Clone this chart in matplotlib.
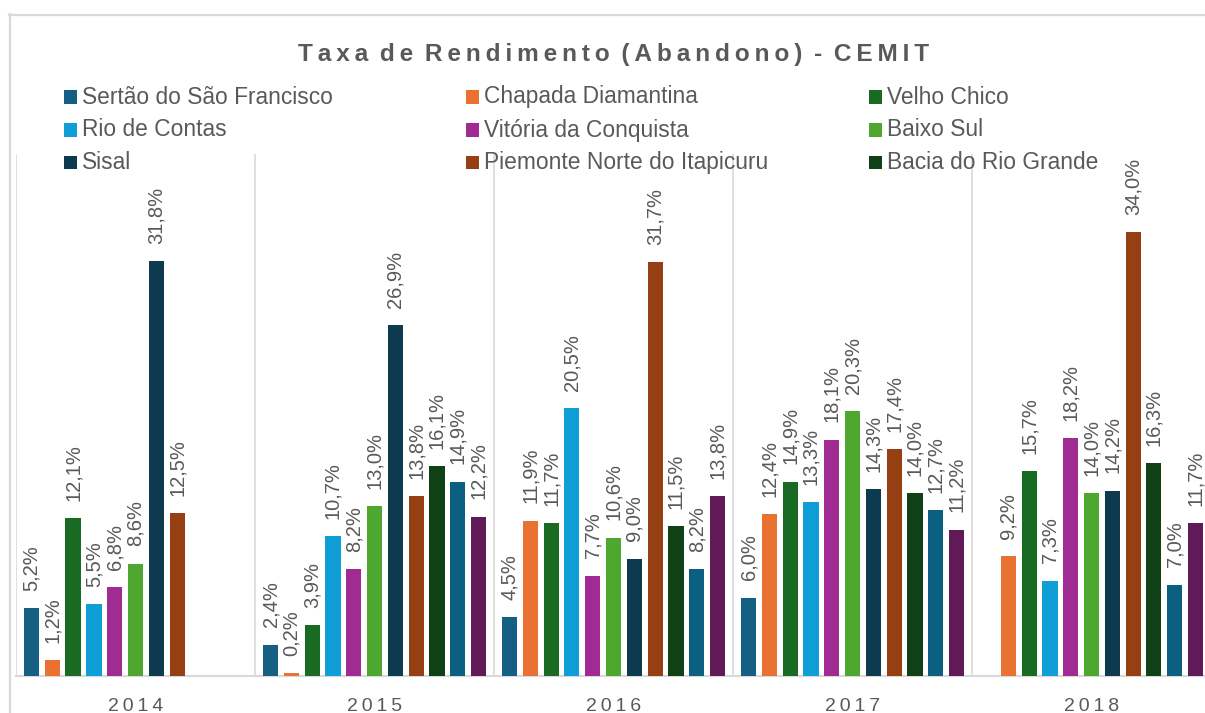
import numpy as np
import matplotlib
matplotlib.use("Agg")
import matplotlib.pyplot as plt
from matplotlib.patches import Rectangle
from matplotlib.lines import Line2D

plt.rcParams['font.family'] = ['Liberation Sans', 'DejaVu Sans']

# ---------------- data ----------------
title = "Taxa de Rendimento (Abandono) - CEMIT"
years = ["2014", "2015", "2016", "2017", "2018"]
series_names = [
    "Sertão do São Francisco", "Chapada Diamantina", "Velho Chico",
    "Rio de Contas", "Vitória da Conquista", "Baixo Sul",
    "Sisal", "Piemonte Norte do Itapicuru", "Bacia do Rio Grande",
    "Série 10", "Série 11",
]
legend_visible = 9  # only the first 9 entries are visible in the legend
nan = np.nan
sertao_sf   = [5.2, 2.4, 4.5, 6.0, nan]
chapada     = [1.2, 0.2, 11.9, 12.4, 9.2]
velho_chico = [12.1, 3.9, 11.7, 14.9, 15.7]
rio_contas  = [5.5, 10.7, 20.5, 13.3, 7.3]
vitoria     = [6.8, 8.2, 7.7, 18.1, 18.2]
baixo_sul   = [8.6, 13.0, 10.6, 20.3, 14.0]
sisal       = [31.8, 26.9, 9.0, 14.3, 14.2]
piemonte    = [12.5, 13.8, 31.7, 17.4, 34.0]
bacia_rg    = [nan, 16.1, 11.5, 14.0, 16.3]
serie10     = [nan, 14.9, 8.2, 12.7, 7.0]
serie11     = [nan, 12.2, 13.8, 11.2, 11.7]
values = [sertao_sf, chapada, velho_chico, rio_contas, vitoria, baixo_sul,
          sisal, piemonte, bacia_rg, serie10, serie11]
colors = ["#156082", "#E97132", "#196B24", "#0F9ED5", "#A02B93", "#4EA72E",
          "#0D3A4E", "#953F12", "#0F4016", "#0B5F80", "#601A58"]

# ---------------- figure ----------------
W, H = 1205, 713
fig = plt.figure(figsize=(W / 100, H / 100), dpi=100)
fig.patch.set_facecolor("white")

def fx(px):
    return px / W

def fy(py):
    return 1 - py / H

ax_left, ax_right, ax_top, ax_bottom = 16, 1211, 154, 676
ax = fig.add_axes([fx(ax_left), fy(ax_bottom), fx(ax_right - ax_left), (ax_bottom - ax_top) / H])
ax.set_xlim(-0.5, len(years) - 0.5)
ax.set_ylim(0, 40)

grey_text = "#595959"
grid_col = "#D9D9D9"

n = len(values)
pitch = 20.8 / 239
width = 15.2 / 239
x = np.arange(len(years))
for j, (vals, col) in enumerate(zip(values, colors)):
    offs = (j - (n - 1) / 2) * pitch
    v = np.array(vals, dtype=float)
    ax.bar(x + offs, v, width=width, color=col, zorder=3)
    for xi, vi in zip(x + offs, v):
        if np.isnan(vi):
            continue
        ax.annotate(f"{vi:.1f}%".replace(".", ","), (xi, vi),
                    xytext=(0, 12.5), textcoords="offset points",
                    rotation=90, ha="center", va="bottom",
                    fontsize=14.5, color=grey_text, zorder=4)

# category separators
for b in np.arange(-0.5, len(years), 1.0):
    ax.axvline(b, color=grid_col, lw=1.2, zorder=1)

for s in ["left", "right", "top"]:
    ax.spines[s].set_visible(False)
ax.spines["bottom"].set_color(grid_col)
ax.spines["bottom"].set_linewidth(1.6)
ax.set_yticks([])
ax.set_xticks(x)
ax.set_xticklabels(["\u2009".join(y) for y in years], fontsize=14, color=grey_text)
ax.tick_params(axis="x", length=0, pad=16)
ax.patch.set_alpha(0)

# outer chart border
fig.add_artist(Line2D([fx(9), fx(W + 5)], [fy(14.5), fy(14.5)], color="#D9D9D9", lw=1.6))
fig.add_artist(Line2D([fx(9.5), fx(9.5)], [fy(14), fy(H + 5)], color="#D9D9D9", lw=1.6))

# title
fig.text(fx(614), fy(61), "\u2009".join(title).replace("\u2009 \u2009", " \u2009"),
         ha="center", va="baseline", fontsize=17.6, fontweight="bold", color=grey_text)

# legend (3 columns, 3 visible rows)
col_x = [63.5, 466, 868.5]
row_base = [103.5, 136.5, 169]
msize = 13
for i in range(legend_visible):
    r, c = divmod(i, 3)
    mx = col_x[c]
    by = row_base[r]
    fig.add_artist(Rectangle((fx(mx), fy(by)), msize / W, msize / H,
                             transform=fig.transFigure, color=colors[i], lw=0))
    fig.text(fx(mx + 18.5), fy(by), series_names[i], ha="left", va="baseline",
             fontsize=16.4, color=grey_text)

fig.savefig("out.png", dpi=100)
